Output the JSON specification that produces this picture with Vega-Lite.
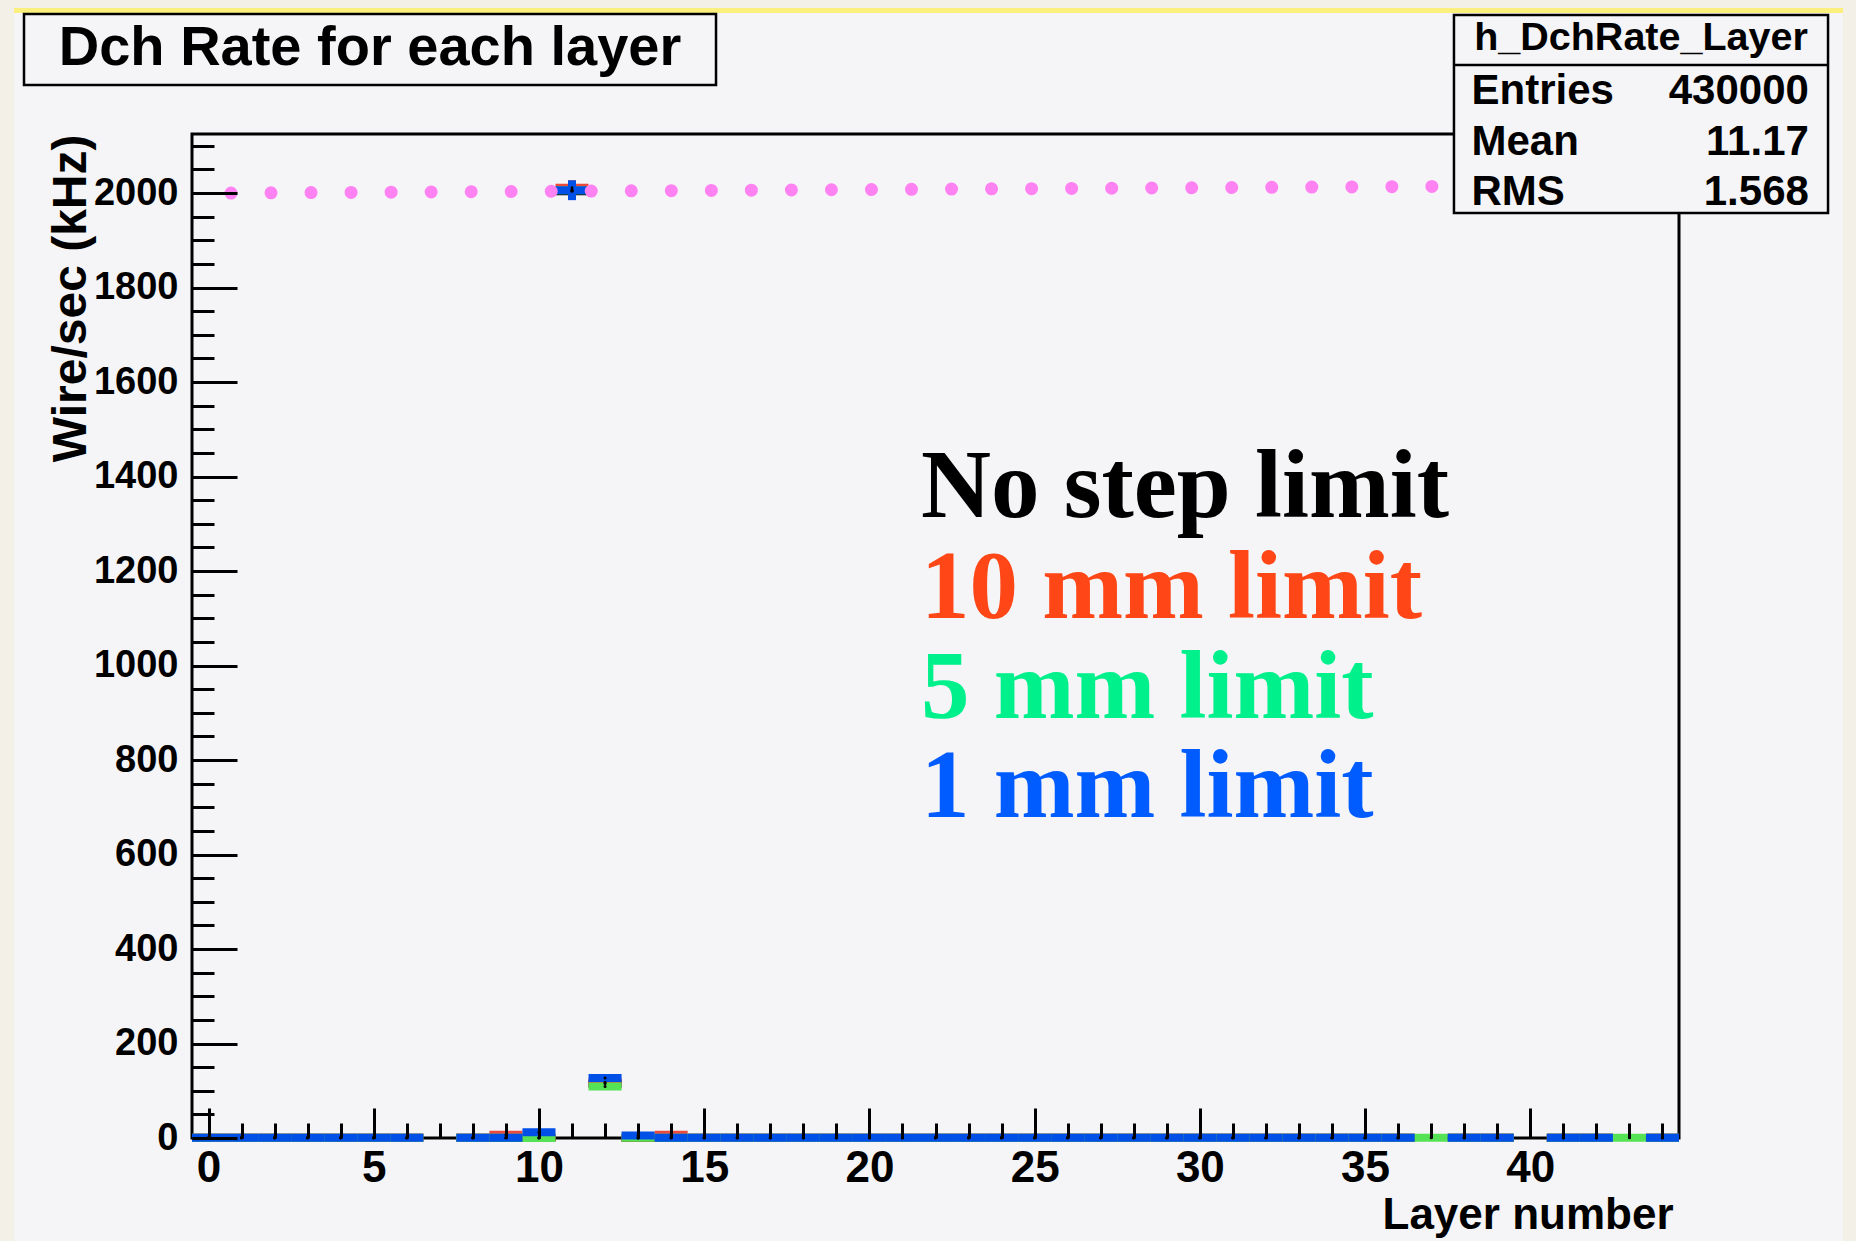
{
  "$schema": "https://vega.github.io/schema/vega-lite/v6.json",
  "width": 1487,
  "height": 1004,
  "autosize": "none",
  "padding": {"left": 192, "top": 134, "right": 177, "bottom": 103},
  "background": "#f3f0e7",
  "config": {
    "view": {"stroke": null},
    "axis": {
      "zindex": 1, "domain": false, "grid": false,
      "tickColor": "#000000", "tickWidth": 3,
      "labelFont": "Liberation Sans", "labelFontWeight": "bold", "labelColor": "#000000",
      "labelFlush": false, "labelOverlap": false,
      "titleFont": "Liberation Sans", "titleFontWeight": "bold", "titleColor": "#000000"
    }
  },
  "datasets": {
    "hist": [
      {"series":"No step limit","layer":0,"rate":0.5},{"series":"No step limit","layer":1,"rate":0.5},{"series":"No step limit","layer":2,"rate":0.5},{"series":"No step limit","layer":3,"rate":0.5},{"series":"No step limit","layer":4,"rate":0.5},{"series":"No step limit","layer":5,"rate":0.5},{"series":"No step limit","layer":6,"rate":0.5},{"series":"No step limit","layer":8,"rate":0.5},{"series":"No step limit","layer":9,"rate":0.5},{"series":"No step limit","layer":10,"rate":0.5},{"series":"No step limit","layer":11,"rate":2004,"err":18},{"series":"No step limit","layer":12,"rate":115},{"series":"No step limit","layer":13,"rate":0},{"series":"No step limit","layer":14,"rate":0.5},{"series":"No step limit","layer":15,"rate":0.5},{"series":"No step limit","layer":16,"rate":0.5},{"series":"No step limit","layer":17,"rate":0.5},{"series":"No step limit","layer":18,"rate":0.5},{"series":"No step limit","layer":19,"rate":0.5},{"series":"No step limit","layer":20,"rate":0.5},{"series":"No step limit","layer":21,"rate":0.5},{"series":"No step limit","layer":22,"rate":0.5},{"series":"No step limit","layer":23,"rate":0.5},{"series":"No step limit","layer":24,"rate":0.5},{"series":"No step limit","layer":25,"rate":0.5},{"series":"No step limit","layer":26,"rate":0.5},{"series":"No step limit","layer":27,"rate":0.5},{"series":"No step limit","layer":28,"rate":0.5},{"series":"No step limit","layer":29,"rate":0.5},{"series":"No step limit","layer":30,"rate":0.5},{"series":"No step limit","layer":31,"rate":0.5},{"series":"No step limit","layer":32,"rate":0.5},{"series":"No step limit","layer":33,"rate":0.5},{"series":"No step limit","layer":34,"rate":0.5},{"series":"No step limit","layer":35,"rate":0.5},{"series":"No step limit","layer":36,"rate":0.5},{"series":"No step limit","layer":38,"rate":0.5},{"series":"No step limit","layer":39,"rate":0.5},{"series":"No step limit","layer":41,"rate":0.5},{"series":"No step limit","layer":42,"rate":0.5},{"series":"No step limit","layer":44,"rate":0.5},
      {"series":"10 mm limit","layer":0,"rate":0.5},{"series":"10 mm limit","layer":1,"rate":0.5},{"series":"10 mm limit","layer":2,"rate":0.5},{"series":"10 mm limit","layer":3,"rate":0.5},{"series":"10 mm limit","layer":4,"rate":0.5},{"series":"10 mm limit","layer":5,"rate":0.5},{"series":"10 mm limit","layer":6,"rate":0.5},{"series":"10 mm limit","layer":8,"rate":0.5},{"series":"10 mm limit","layer":9,"rate":7},{"series":"10 mm limit","layer":10,"rate":0.5},{"series":"10 mm limit","layer":11,"rate":2011,"err":16},{"series":"10 mm limit","layer":12,"rate":118},{"series":"10 mm limit","layer":13,"rate":0.5},{"series":"10 mm limit","layer":14,"rate":7},{"series":"10 mm limit","layer":15,"rate":0.5},{"series":"10 mm limit","layer":16,"rate":0.5},{"series":"10 mm limit","layer":17,"rate":0.5},{"series":"10 mm limit","layer":18,"rate":0.5},{"series":"10 mm limit","layer":19,"rate":0.5},{"series":"10 mm limit","layer":20,"rate":0.5},{"series":"10 mm limit","layer":21,"rate":0.5},{"series":"10 mm limit","layer":22,"rate":0.5},{"series":"10 mm limit","layer":23,"rate":0.5},{"series":"10 mm limit","layer":24,"rate":0.5},{"series":"10 mm limit","layer":25,"rate":0.5},{"series":"10 mm limit","layer":26,"rate":0.5},{"series":"10 mm limit","layer":27,"rate":0.5},{"series":"10 mm limit","layer":28,"rate":0.5},{"series":"10 mm limit","layer":29,"rate":0.5},{"series":"10 mm limit","layer":30,"rate":0.5},{"series":"10 mm limit","layer":31,"rate":0.5},{"series":"10 mm limit","layer":32,"rate":0.5},{"series":"10 mm limit","layer":33,"rate":0.5},{"series":"10 mm limit","layer":34,"rate":0.5},{"series":"10 mm limit","layer":35,"rate":0.5},{"series":"10 mm limit","layer":36,"rate":0.5},{"series":"10 mm limit","layer":38,"rate":0.5},{"series":"10 mm limit","layer":39,"rate":0.5},{"series":"10 mm limit","layer":41,"rate":0.5},{"series":"10 mm limit","layer":42,"rate":0.5},{"series":"10 mm limit","layer":44,"rate":0.5},
      {"series":"5 mm limit","layer":0,"rate":0.5},{"series":"5 mm limit","layer":1,"rate":0.5},{"series":"5 mm limit","layer":2,"rate":0.5},{"series":"5 mm limit","layer":3,"rate":0.5},{"series":"5 mm limit","layer":4,"rate":0.5},{"series":"5 mm limit","layer":5,"rate":0.5},{"series":"5 mm limit","layer":6,"rate":0.5},{"series":"5 mm limit","layer":8,"rate":0.5},{"series":"5 mm limit","layer":9,"rate":0.5},{"series":"5 mm limit","layer":10,"rate":0},{"series":"5 mm limit","layer":11,"rate":2006,"err":18},{"series":"5 mm limit","layer":12,"rate":109},{"series":"5 mm limit","layer":13,"rate":0.5},{"series":"5 mm limit","layer":14,"rate":0.5},{"series":"5 mm limit","layer":15,"rate":0.5},{"series":"5 mm limit","layer":16,"rate":0.5},{"series":"5 mm limit","layer":17,"rate":0.5},{"series":"5 mm limit","layer":18,"rate":0.5},{"series":"5 mm limit","layer":19,"rate":0.5},{"series":"5 mm limit","layer":20,"rate":0.5},{"series":"5 mm limit","layer":21,"rate":0.5},{"series":"5 mm limit","layer":22,"rate":0.5},{"series":"5 mm limit","layer":23,"rate":0.5},{"series":"5 mm limit","layer":24,"rate":0.5},{"series":"5 mm limit","layer":25,"rate":0.5},{"series":"5 mm limit","layer":26,"rate":0.5},{"series":"5 mm limit","layer":27,"rate":0.5},{"series":"5 mm limit","layer":28,"rate":0.5},{"series":"5 mm limit","layer":29,"rate":0.5},{"series":"5 mm limit","layer":30,"rate":0.5},{"series":"5 mm limit","layer":31,"rate":0.5},{"series":"5 mm limit","layer":32,"rate":0.5},{"series":"5 mm limit","layer":33,"rate":0.5},{"series":"5 mm limit","layer":34,"rate":0.5},{"series":"5 mm limit","layer":35,"rate":0.5},{"series":"5 mm limit","layer":36,"rate":0.5},{"series":"5 mm limit","layer":37,"rate":0.5},{"series":"5 mm limit","layer":38,"rate":0.5},{"series":"5 mm limit","layer":39,"rate":0.5},{"series":"5 mm limit","layer":41,"rate":0.5},{"series":"5 mm limit","layer":42,"rate":0.5},{"series":"5 mm limit","layer":43,"rate":0.5},{"series":"5 mm limit","layer":44,"rate":0.5},
      {"series":"1 mm limit","layer":0,"rate":0.5},{"series":"1 mm limit","layer":1,"rate":0.5},{"series":"1 mm limit","layer":2,"rate":0.5},{"series":"1 mm limit","layer":3,"rate":0.5},{"series":"1 mm limit","layer":4,"rate":0.5},{"series":"1 mm limit","layer":5,"rate":0.5},{"series":"1 mm limit","layer":6,"rate":0.5},{"series":"1 mm limit","layer":8,"rate":0.5},{"series":"1 mm limit","layer":9,"rate":0.5},{"series":"1 mm limit","layer":10,"rate":12},{"series":"1 mm limit","layer":11,"rate":2006,"err":21},{"series":"1 mm limit","layer":12,"rate":127},{"series":"1 mm limit","layer":13,"rate":5.5},{"series":"1 mm limit","layer":14,"rate":0.5},{"series":"1 mm limit","layer":15,"rate":0.5},{"series":"1 mm limit","layer":16,"rate":0.5},{"series":"1 mm limit","layer":17,"rate":0.5},{"series":"1 mm limit","layer":18,"rate":0.5},{"series":"1 mm limit","layer":19,"rate":0.5},{"series":"1 mm limit","layer":20,"rate":0.5},{"series":"1 mm limit","layer":21,"rate":0.5},{"series":"1 mm limit","layer":22,"rate":0.5},{"series":"1 mm limit","layer":23,"rate":0.5},{"series":"1 mm limit","layer":24,"rate":0.5},{"series":"1 mm limit","layer":25,"rate":0.5},{"series":"1 mm limit","layer":26,"rate":0.5},{"series":"1 mm limit","layer":27,"rate":0.5},{"series":"1 mm limit","layer":28,"rate":0.5},{"series":"1 mm limit","layer":29,"rate":0.5},{"series":"1 mm limit","layer":30,"rate":0.5},{"series":"1 mm limit","layer":31,"rate":0.5},{"series":"1 mm limit","layer":32,"rate":0.5},{"series":"1 mm limit","layer":33,"rate":0.5},{"series":"1 mm limit","layer":34,"rate":0.5},{"series":"1 mm limit","layer":35,"rate":0.5},{"series":"1 mm limit","layer":36,"rate":0.5},{"series":"1 mm limit","layer":38,"rate":0.5},{"series":"1 mm limit","layer":39,"rate":0.5},{"series":"1 mm limit","layer":41,"rate":0.5},{"series":"1 mm limit","layer":42,"rate":0.5},{"series":"1 mm limit","layer":44,"rate":0.5}
    ],
    "one": [{}]
  },
  "layer": [
    {
      "data": {"name": "one"},
      "mark": {"type": "rect", "fill": "#fbef7e"},
      "encoding": {
        "x": {"datum": -5.887, "type": "quantitative", "axis": null},
        "x2": {"datum": 49.464},
        "y": {"datum": 2391.7, "type": "quantitative", "axis": null},
        "y2": {"datum": -218}
      }
    },
    {
      "data": {"name": "one"},
      "mark": {"type": "rect", "fill": "#f5f4f7"},
      "encoding": {
        "x": {"datum": -5.887, "type": "quantitative", "axis": null},
        "x2": {"datum": 49.464},
        "y": {"datum": 2381.1, "type": "quantitative", "axis": null},
        "y2": {"datum": -218}
      }
    },
    {
      "data": {"name": "one"},
      "mark": {"type": "rect", "fill": "transparent", "stroke": "#000000", "strokeWidth": 3},
      "encoding": {
        "x": {"datum": -0.5, "type": "quantitative",
              "scale": {"domain": [-0.5, 44.5], "nice": false, "zero": false},
              "axis": {"orient": "bottom", "zindex": 2, "values": [0,1,2,3,4,5,6,7,8,9,10,11,12,13,14,15,16,17,18,19,20,21,22,23,24,25,26,27,28,29,30,31,32,33,34,35,36,37,38,39,40,41,42,43,44],
                       "tickSize": -15, "labels": false, "title": null}},
        "x2": {"datum": 44.5},
        "y": {"datum": 0, "type": "quantitative",
              "scale": {"domain": [0, 2125], "nice": false, "zero": false},
              "axis": {"orient": "left", "zindex": 2, "values": [0,50,100,150,200,250,300,350,400,450,500,550,600,650,700,750,800,850,900,950,1000,1050,1100,1150,1200,1250,1300,1350,1400,1450,1500,1550,1600,1650,1700,1750,1800,1850,1900,1950,2000,2050,2100],
                       "tickSize": -22, "labels": false, "title": null}},
        "y2": {"datum": 2125}
      }
    },
    {
      "data": {"name": "hist"},
      "mark": {"type": "tick", "orient": "horizontal", "size": 33.04, "thickness": 8, "opacity": 1},
      "encoding": {
        "x": {"field": "layer", "type": "quantitative",
              "scale": {"domain": [-0.5, 44.5], "nice": false, "zero": false},
              "axis": {"orient": "bottom", "zindex": 2, "values": [0,5,10,15,20,25,30,35,40], "tickSize": -30,
                       "labelFontSize": 44, "labelPadding": 38, "labelBaseline": "top", "format": "d",
                       "title": "Layer number", "titleFontSize": 44, "titleX": 1481, "titleY": 90,
                       "titleAlign": "right", "titleBaseline": "alphabetic"}},
        "y": {"field": "rate", "type": "quantitative",
              "scale": {"domain": [0, 2125], "nice": false, "zero": false},
              "axis": {"orient": "left", "zindex": 2, "values": [0,200,400,600,800,1000,1200,1400,1600,1800,2000], "tickSize": -45,
                       "format": "d", "labelFontSize": 38, "labelPadding": 59, "labelBaseline": "middle",
                       "title": "Wire/sec (kHz)", "titleFontSize": 48, "titleAngle": -90,
                       "titleX": -107, "titleY": 0, "titleAlign": "right", "titleBaseline": "alphabetic"}},
        "color": {"field": "series", "type": "nominal",
                  "scale": {"domain": ["No step limit", "10 mm limit", "5 mm limit", "1 mm limit"],
                            "range": ["#000000", "#ec4a3c", "#55e255", "#0050e8"]},
                  "legend": null}
      }
    },
    {
      "data": {"name": "hist"},
      "transform": [{"filter": "datum.err > 0"}],
      "mark": {"type": "errorbar", "thickness": 8, "rule": {"strokeWidth": 8}},
      "encoding": {
        "x": {"field": "layer", "type": "quantitative", "axis": null},
        "y": {"field": "rate", "type": "quantitative", "axis": null},
        "yError": {"field": "err"},
        "color": {"field": "series", "type": "nominal", "legend": null}
      }
    },
    {
      "data": {"name": "hist"},
      "mark": {"type": "point", "filled": true, "size": 9, "color": "#000000", "opacity": 1},
      "encoding": {
        "x": {"field": "layer", "type": "quantitative", "axis": null},
        "y": {"field": "rate", "type": "quantitative", "axis": null}
      }
    },
    {
      "data": {"name": "one"},
      "mark": {"type": "rule", "color": "#ff82f2", "strokeWidth": 13, "strokeCap": "round", "strokeDash": [0.01, 40.02]},
      "encoding": {
        "x": {"datum": 0.68, "type": "quantitative", "axis": null},
        "x2": {"datum": 44.5},
        "y": {"datum": 2000, "type": "quantitative", "axis": null},
        "y2": {"datum": 2016.9}
      }
    },
    {
      "data": {"name": "one"},
      "mark": {"type": "text", "text": "No step limit", "font": "Liberation Serif", "fontWeight": "bold", "fontSize": 97, "align": "left", "baseline": "alphabetic", "color": "#000000"},
      "encoding": {
        "x": {"datum": 21.56, "type": "quantitative", "axis": null},
        "y": {"datum": 1314.4, "type": "quantitative", "axis": null}
      }
    },
    {
      "data": {"name": "one"},
      "mark": {"type": "text", "text": "10 mm limit", "font": "Liberation Serif", "fontWeight": "bold", "fontSize": 97, "align": "left", "baseline": "alphabetic", "color": "#ff4616"},
      "encoding": {
        "x": {"datum": 21.56, "type": "quantitative", "axis": null},
        "y": {"datum": 1100.6, "type": "quantitative", "axis": null}
      }
    },
    {
      "data": {"name": "one"},
      "mark": {"type": "text", "text": "5 mm limit", "font": "Liberation Serif", "fontWeight": "bold", "fontSize": 97, "align": "left", "baseline": "alphabetic", "color": "#00f08c"},
      "encoding": {
        "x": {"datum": 21.56, "type": "quantitative", "axis": null},
        "y": {"datum": 889.0, "type": "quantitative", "axis": null}
      }
    },
    {
      "data": {"name": "one"},
      "mark": {"type": "text", "text": "1 mm limit", "font": "Liberation Serif", "fontWeight": "bold", "fontSize": 97, "align": "left", "baseline": "alphabetic", "color": "#005cff"},
      "encoding": {
        "x": {"datum": 21.56, "type": "quantitative", "axis": null},
        "y": {"datum": 679.4, "type": "quantitative", "axis": null}
      }
    },
    {
      "data": {"name": "one"},
      "mark": {"type": "rect", "fill": "#000000", "xOffset": 4, "yOffset": 4},
      "encoding": {
        "x": {"datum": -5.584, "type": "quantitative", "axis": null},
        "x2": {"datum": 15.358},
        "y": {"datum": 2379.0, "type": "quantitative", "axis": null},
        "y2": {"datum": 2228.7}
      }
    },
    {
      "data": {"name": "one"},
      "mark": {"type": "rect", "fill": "#f5f4f7", "stroke": "#000000", "strokeWidth": 2.5},
      "encoding": {
        "x": {"datum": -5.584, "type": "quantitative", "axis": null},
        "x2": {"datum": 15.358},
        "y": {"datum": 2379.0, "type": "quantitative", "axis": null},
        "y2": {"datum": 2228.7}
      }
    },
    {
      "data": {"name": "one"},
      "mark": {"type": "text", "text": "Dch Rate for each layer", "font": "Liberation Sans", "fontWeight": "bold", "fontSize": 56, "align": "center", "baseline": "alphabetic", "color": "#000000"},
      "encoding": {
        "x": {"datum": 4.887, "type": "quantitative", "axis": null},
        "y": {"datum": 2271.0, "type": "quantitative", "axis": null}
      }
    },
    {
      "data": {"name": "one"},
      "mark": {"type": "rect", "fill": "#000000", "xOffset": 4, "yOffset": 4},
      "encoding": {
        "x": {"datum": 37.69, "type": "quantitative", "axis": null},
        "x2": {"datum": 49.01},
        "y": {"datum": 2376.9, "type": "quantitative", "axis": null},
        "y2": {"datum": 1957.8}
      }
    },
    {
      "data": {"name": "one"},
      "mark": {"type": "rect", "fill": "#f5f4f7", "stroke": "#000000", "strokeWidth": 2.5},
      "encoding": {
        "x": {"datum": 37.69, "type": "quantitative", "axis": null},
        "x2": {"datum": 49.01},
        "y": {"datum": 2376.9, "type": "quantitative", "axis": null},
        "y2": {"datum": 1957.8}
      }
    },
    {
      "data": {"name": "one"},
      "mark": {"type": "rule", "color": "#000000", "strokeWidth": 2.5},
      "encoding": {
        "x": {"datum": 37.69, "type": "quantitative", "axis": null},
        "x2": {"datum": 49.01},
        "y": {"datum": 2271.0, "type": "quantitative", "axis": null}
      }
    },
    {
      "data": {"name": "one"},
      "mark": {"type": "text", "text": "h_DchRate_Layer", "font": "Liberation Sans", "fontWeight": "bold", "fontSize": 39.5, "align": "center", "baseline": "alphabetic", "color": "#000000"},
      "encoding": {
        "x": {"datum": 43.35, "type": "quantitative", "axis": null},
        "y": {"datum": 2302.8, "type": "quantitative", "axis": null}
      }
    },
    {
      "data": {"name": "one"},
      "mark": {"type": "text", "text": "Entries\nMean\nRMS", "lineBreak": "\n", "lineHeight": 50.5, "font": "Liberation Sans", "fontWeight": "bold", "fontSize": 42, "align": "left", "baseline": "alphabetic", "color": "#000000"},
      "encoding": {
        "x": {"datum": 38.22, "type": "quantitative", "axis": null},
        "y": {"datum": 2188.2, "type": "quantitative", "axis": null}
      }
    },
    {
      "data": {"name": "one"},
      "mark": {"type": "text", "text": "430000\n11.17\n1.568", "lineBreak": "\n", "lineHeight": 50.5, "font": "Liberation Sans", "fontWeight": "bold", "fontSize": 42, "align": "right", "baseline": "alphabetic", "color": "#000000"},
      "encoding": {
        "x": {"datum": 48.43, "type": "quantitative", "axis": null},
        "y": {"datum": 2188.2, "type": "quantitative", "axis": null}
      }
    }
  ],
  "resolve": {"axis": {"x": "independent", "y": "independent"}}
}
